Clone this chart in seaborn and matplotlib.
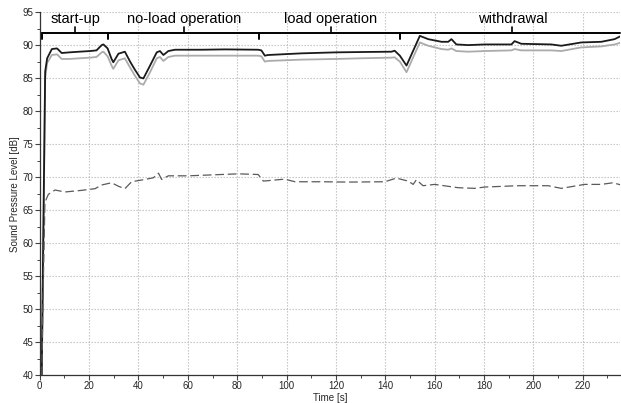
import numpy as np
import pandas as pd
import matplotlib
matplotlib.use("Agg")
import matplotlib.pyplot as plt
from matplotlib.ticker import MultipleLocator
import seaborn as sns

# ---------------- data ----------------
t_black = [0.8, 1.4, 2.2, 3.0, 4.9, 7.0, 8.9, 12, 16, 20.4, 23, 25.1, 25.8, 27.5,
           29.1, 29.8, 31.9, 34.5, 36.6, 38.5, 40.6, 42.0, 44.7, 47.4, 48.7, 50.1,
           52.1, 54.8, 65.6, 75, 88.5, 89.8, 91.2, 92.5, 106, 120, 130, 142.5, 143.8,
           145.9, 148.6, 154, 157.4, 162.8, 165.5, 166.8, 168.8, 173.6, 180.3, 191.1,
           192.4, 195.1, 207.3, 211.3, 219.4, 227.5, 232.9, 235.6]
spl_black = [40, 60, 86.0, 88.0, 89.4, 89.5, 88.8, 88.9, 89.0, 89.1, 89.2, 90.0, 90.1, 89.5,
             87.9, 87.4, 88.7, 89.0, 87.5, 86.3, 85.1, 84.95, 86.9, 88.9, 89.1, 88.5,
             89.1, 89.3, 89.3, 89.35, 89.3, 89.2, 88.4, 88.5, 88.75, 88.9, 88.95, 89.0, 89.15,
             88.4, 86.9, 91.4, 90.9, 90.5, 90.5, 90.9, 90.1, 90.0, 90.1, 90.1,
             90.6, 90.2, 90.1, 89.9, 90.4, 90.5, 90.9, 91.4]
spl_grey = [40, 58, 85.0, 87.3, 88.5, 88.6, 87.9, 87.9, 88.0, 88.1, 88.2, 88.9, 89.0, 88.3,
            86.9, 86.4, 87.7, 88.0, 86.6, 85.4, 84.2, 84.0, 85.9, 88.0, 88.2, 87.6,
            88.2, 88.4, 88.4, 88.4, 88.4, 88.3, 87.5, 87.6, 87.8, 87.9, 88.0, 88.1, 88.15,
            87.5, 85.9, 90.4, 89.9, 89.4, 89.3, 89.5, 89.1, 89.0, 89.1, 89.2,
            89.4, 89.2, 89.2, 89.1, 89.65, 89.8, 90.1, 90.4]
t_dash = [0.8, 1.5, 2.1, 3.5, 6.2, 10.2, 17, 22.4, 25, 29.1, 32, 34.5, 37.2, 42.6, 46,
          48.1, 49.4, 52.1, 60.2, 73.7, 80.4, 88.5, 90.6, 99.3, 103.4, 114.2, 125,
          139.8, 144.5, 149.3, 151.3, 152.6, 155.3, 160, 169.5, 176.2, 180.3, 193.8,
          206, 211.3, 220.8, 227.5, 232.3, 235.6]
spl_dash = [40, 55, 66.2, 67.4, 68.05, 67.75, 68.0, 68.25, 68.8, 69.15, 68.6, 68.25, 69.3,
            69.65, 69.9, 70.6, 69.65, 70.2, 70.2, 70.4, 70.5, 70.4, 69.4, 69.7, 69.3,
            69.3, 69.25, 69.3, 69.85, 69.4, 68.9, 69.6, 68.7, 68.9, 68.4, 68.3, 68.5,
            68.7, 68.7, 68.3, 68.9, 68.9, 69.15, 68.8]

phase_labels = ["start-up", "no-load operation", "load operation", "withdrawal"]
phase_bounds = [1.0, 27.8, 89.0, 146.0, 235.0]
phase_centers = [14.3, 58.5, 118.0, 191.5]

x_ticks = [0, 20, 40, 60, 80, 100, 120, 140, 160, 180, 200, 220]
y_ticks = [40, 45, 50, 55, 60, 65, 70, 75, 80, 85, 90, 95]

# ---------------- plot ----------------
sns.set_style("ticks")
plt.rcParams["font.family"] = ["Liberation Sans", "DejaVu Sans"]

fig = plt.figure(figsize=(6.21, 4.03), dpi=100)
ax = fig.add_axes([0.064, 0.069, 0.934, 0.901])

df_b = pd.DataFrame({"t": t_black, "spl": spl_black})
df_g = pd.DataFrame({"t": t_black, "spl": spl_grey})
df_d = pd.DataFrame({"t": t_dash, "spl": spl_dash})

sns.lineplot(data=df_g, x="t", y="spl", ax=ax, color="#ababab", lw=1.3,
             estimator=None, sort=False)
sns.lineplot(data=df_b, x="t", y="spl", ax=ax, color="#1a1a1a", lw=1.3,
             estimator=None, sort=False)
sns.lineplot(data=df_d, x="t", y="spl", ax=ax, color="#5a5a5a", lw=0.9,
             estimator=None, sort=False, linestyle=(0, (7, 3)))

ax.set_xlim(0, 235)
ax.set_ylim(40, 95)
ax.set_xticks(x_ticks)
ax.set_yticks(y_ticks)
ax.xaxis.set_minor_locator(MultipleLocator(10))
ax.yaxis.set_minor_locator(MultipleLocator(2.5))
ax.tick_params(axis="both", which="major", labelsize=7, length=3.5, width=0.8,
               color="#444444", pad=1)
ax.tick_params(axis="both", which="minor", length=2, width=0.7, color="#444444")
ax.grid(True, which="major", linestyle=(0, (1.2, 1.5)), color="#bdbdbd", lw=0.8)
for s in ["top", "right"]:
    ax.spines[s].set_visible(False)
for s in ["left", "bottom"]:
    ax.spines[s].set_color("#333333")
    ax.spines[s].set_linewidth(0.9)

ax.set_xlabel("Time [s]", fontsize=7, labelpad=1)
ax.set_ylabel("Sound Pressure Level [dB]", fontsize=7, labelpad=2)

# phase brackets
y_br = 91.8
ax.plot([phase_bounds[0], phase_bounds[-1]], [y_br, y_br], color="black", lw=1.4,
        clip_on=False)
for b in phase_bounds[:-1]:
    ax.plot([b, b], [y_br, y_br - 0.9], color="black", lw=1.4)
for c, lab in zip(phase_centers, phase_labels):
    ax.plot([c, c], [y_br, y_br + 0.9], color="black", lw=1.2)
    ax.text(c, 93.9, lab, ha="center", va="center", fontsize=10.5, color="black")

fig.savefig("out.png", dpi=100)
